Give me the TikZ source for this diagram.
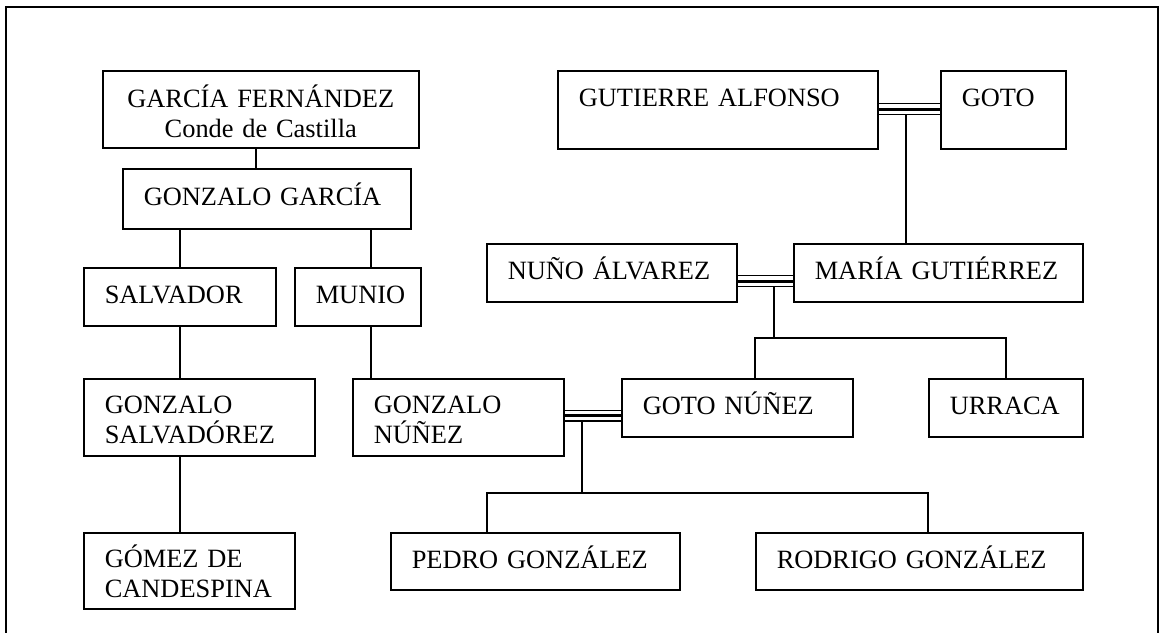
\documentclass[tikz,border=0pt]{standalone}
\usepackage{fontspec}
\setmainfont{Liberation Serif}
\newcommand{\lift}[1]{\rule{0pt}{#1}}

\begin{document}
\begin{tikzpicture}[x=0.5pt,y=-0.5pt,
  person/.style 2 args={draw, line width=0.75pt, anchor=north west,
    inner xsep=10.5pt, inner ysep=0pt, text width=#1, minimum height=#2,
    align=left, font=\fontsize{13.2}{15}\selectfont},
  oneline/.style={text height=8.7pt, text depth=1.7pt},
  link/.style={line width=0.75pt}]
\clip (0,0) rectangle (1159,632);
\draw[line width=0.8pt] (6,7) rectangle (1158,680);

% Castilla side
\node[person={137pt}{38.5pt}, align=center] (garcia) at (102,70) {\lift{13.5pt}GARC\'IA FERN\'ANDEZ\\Conde de Castilla};
\node[person={123pt}{30pt}, oneline] (gonzalogarcia) at (122,168) {GONZALO~GARC\'IA};
\node[person={75pt}{29pt}, oneline] (salvador) at (83,267) {SALVADOR};
\node[person={42pt}{29pt}, oneline] (munio) at (294,267) {MUNIO};
\node[person={94.5pt}{38.5pt}] (gonzalosalv) at (83,378) {\lift{11.7pt}GONZALO\\SALVAD\'OREZ};
\node[person={84.5pt}{38pt}] (gomez) at (83,532) {\lift{12pt}G\'OMEZ DE\\CANDESPINA};
\node[person={84.5pt}{38.5pt}] (gonzalonunez) at (352,378) {\lift{11.7pt}GONZALO\\N\'U\~NEZ};

% the other side
\node[person={139pt}{39pt}, text height=8.7pt, text depth=11.7pt] (gutierre) at (557,70) {GUTIERRE~ALFONSO};
\node[person={41.5pt}{39pt}, text height=8.7pt, text depth=11.7pt] (goto) at (940,70) {GOTO};
\node[person={104pt}{29pt}, oneline] (nuno) at (486,243) {NU\~NO~\'ALVAREZ};
\node[person={123.5pt}{29pt}, oneline] (maria) at (793,243) {MAR\'IA~GUTI\'ERREZ};
\node[person={94.5pt}{29pt}, oneline] (gotonunez) at (621,378) {GOTO~N\'U\~NEZ};
\node[person={56pt}{29pt}, oneline] (urraca) at (928,378) {URRACA};
\node[person={123.5pt}{28.5pt}, oneline] (pedro) at (390,532) {PEDRO~GONZ\'ALEZ};
\node[person={142.5pt}{28.5pt}, oneline] (rodrigo) at (755,532) {RODRIGO~GONZ\'ALEZ};

% descent
\draw[link] (garcia.south -| 256,0) -- (gonzalogarcia.north -| 256,0);
\draw[link] (gonzalogarcia.south -| salvador.north) -- (salvador.north);
\draw[link] (gonzalogarcia.south -| 371,0) -- (munio.north -| 371,0);
\draw[link] (salvador.south) -- (gonzalosalv.north -| salvador.south);
\draw[link] (gonzalosalv.south -| salvador.south) -- (gomez.north -| salvador.south);
\draw[link] (munio.south -| 371,0) -- (gonzalonunez.north -| 371,0);

% marriages
\foreach \yy/\lw in {103.5/0.75pt, 109/1.5pt, 114.5/0.75pt}
  \draw[line width=\lw] (gutierre.east |- 0,\yy) -- (goto.west |- 0,\yy);
\foreach \yy/\lw in {275.5/0.75pt, 281/1.5pt, 286.5/0.75pt}
  \draw[line width=\lw] (nuno.east |- 0,\yy) -- (maria.west |- 0,\yy);
\foreach \yy/\lw in {410.5/0.75pt, 415.5/1.5pt, 421/0.75pt}
  \draw[line width=\lw] (gonzalonunez.east |- 0,\yy) -- (gotonunez.west |- 0,\yy);

% children
\draw[link] (906,114.5) -- (maria.north -| 906,0);
\coordinate (nm) at (774,286.5);
\coordinate (nmbar) at (774,338);
\draw[link] (nm) -- (nmbar);
\draw[link] (gotonunez.north -| 755,0) |- (urraca.north |- nmbar) -- (urraca.north);
\coordinate (gg) at (582,421);
\coordinate (ggbar) at (582,493);
\draw[link] (gg) -- (ggbar);
\draw[link] (pedro.north -| 487,0) -- (487,493) -- (928,493) -- (rodrigo.north -| 928,0);
\end{tikzpicture}
\end{document}
